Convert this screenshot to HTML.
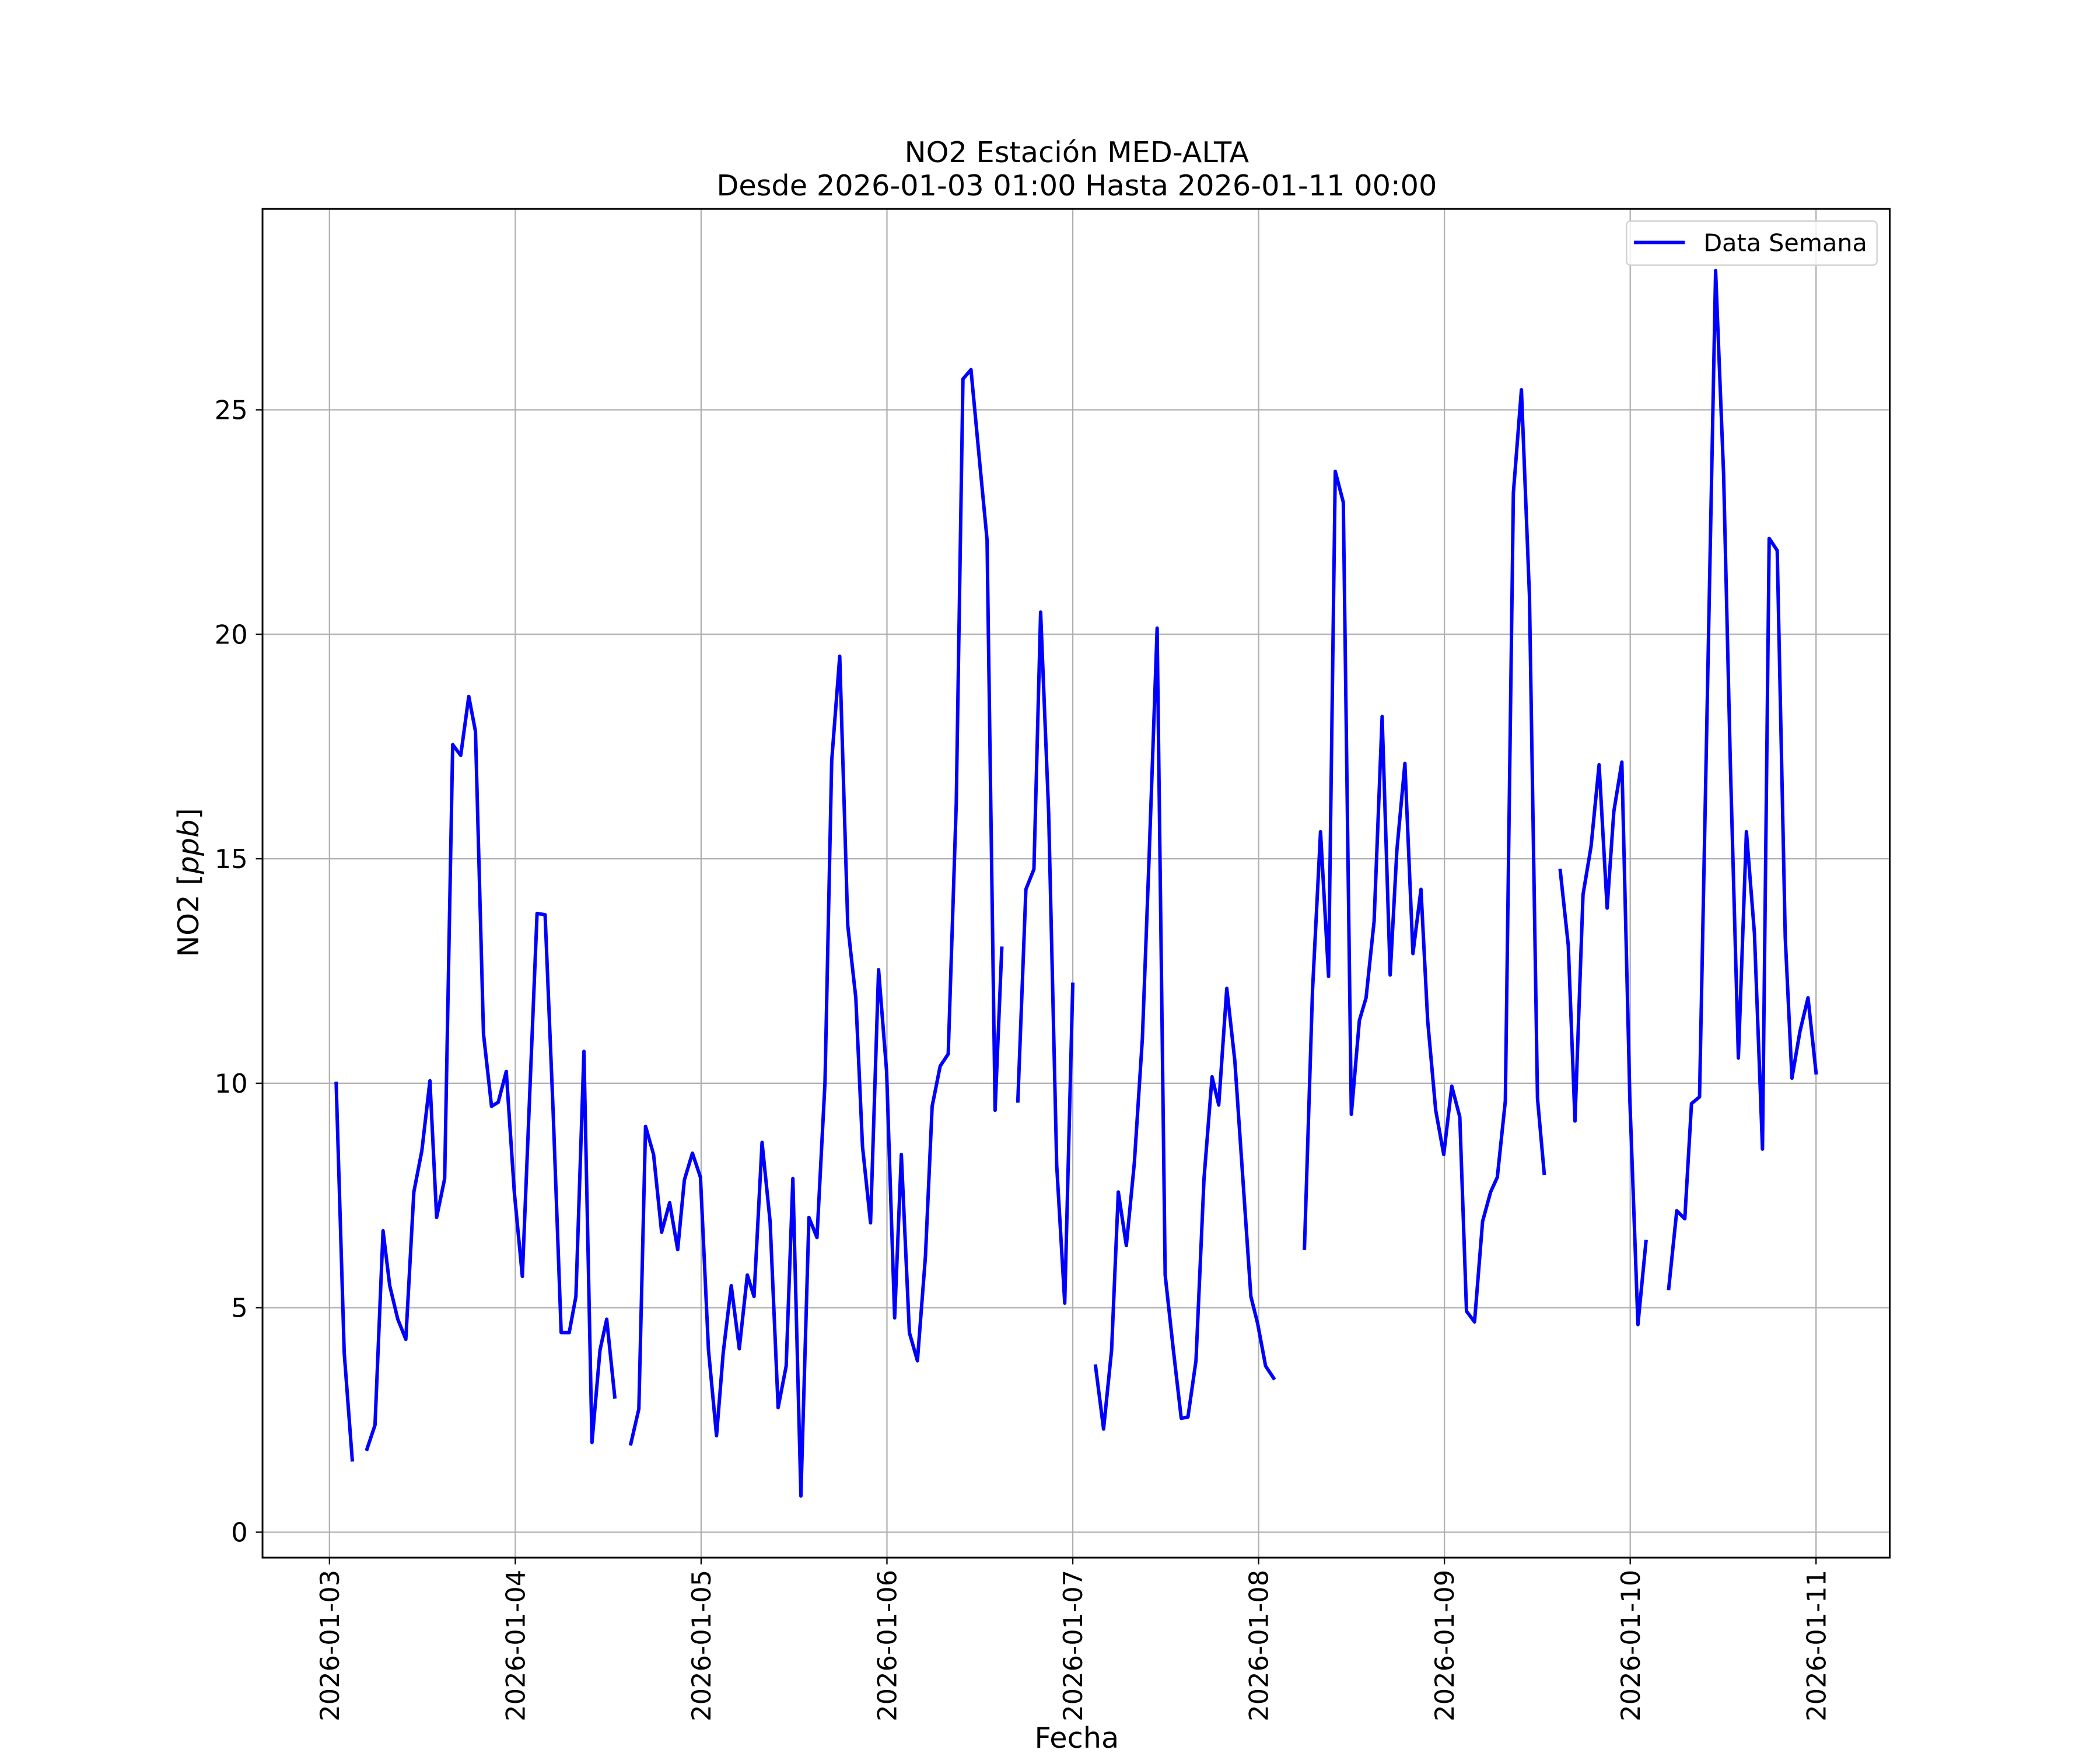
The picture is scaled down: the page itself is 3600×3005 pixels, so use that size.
<!DOCTYPE html>
<html><head><meta charset="utf-8"><style>html,body{margin:0;padding:0;background:#fff}</style></head>
<body>
<svg xmlns="http://www.w3.org/2000/svg" width="3600" height="3000" viewBox="0 0 1568 1306.7" font-family="DejaVu Sans, Liberation Sans, sans-serif">
<rect width="1568" height="1306.7" fill="#fff"/>
<g stroke="#b0b0b0" stroke-width="1">
<line x1="246" y1="156" x2="246" y2="1163"/><line x1="384.75" y1="156" x2="384.75" y2="1163"/><line x1="523.5" y1="156" x2="523.5" y2="1163"/><line x1="662.25" y1="156" x2="662.25" y2="1163"/><line x1="801" y1="156" x2="801" y2="1163"/><line x1="939.75" y1="156" x2="939.75" y2="1163"/><line x1="1078.5" y1="156" x2="1078.5" y2="1163"/><line x1="1217.25" y1="156" x2="1217.25" y2="1163"/><line x1="1356" y1="156" x2="1356" y2="1163"/>
<line x1="196" y1="1144" x2="1411" y2="1144"/><line x1="196" y1="976.4" x2="1411" y2="976.4"/><line x1="196" y1="808.8" x2="1411" y2="808.8"/><line x1="196" y1="641.2" x2="1411" y2="641.2"/><line x1="196" y1="473.6" x2="1411" y2="473.6"/><line x1="196" y1="306" x2="1411" y2="306"/>
</g>
<g fill="none" stroke="#0000ff" stroke-width="2.6" stroke-linejoin="round" stroke-linecap="square">
<polyline points="251,809 257,1010 263,1090"/>
<polyline points="274,1082 280,1064 286,919 291,960 297,985 303,1000 309,890 315,859 321,807 326,909 332,880 338,556 344,564 350,520 355,546 361,772 367,826 372,823 378,800 384,890 390,953 396,805 401,682 407,683 413,830 419,995 425,995 430,968 436,785 442,1077 448,1008 453,985 459,1043"/>
<polyline points="471,1078 477,1052 482,841 488,862 494,920 500,898 506,933 511,881 517,861 523,879 529,1008 535,1072 540,1010 546,960 552,1007 558,952 563,968 569,853 575,912 581,1051 587,1020 592,880 598,1117 604,909 610,924 616,808 621,568 627,490 633,691 639,745 644,856 650,913 656,724 662,800 668,984 673,862 679,995 685,1016 691,938 696,826 702,796 708,787 714,600 719,283 725,276 731,340 737,403 743,829 748,708"/>
<polyline points="760,822 766,664 772,649 777,457 783,607 789,870 795,973 801,735"/>
<polyline points="818,1020 824,1067 830,1008 835,890 841,930 847,868 853,775 858,640 864,469 870,952 876,1007 882,1059 887,1058 893,1016 899,880 905,804 910,825 916,738 922,792 928,880 934,968 939,988 945,1020 951,1029"/>
<polyline points="974,932 980,740 986,621 992,729 997,352 1003,375 1009,832 1015,762 1020,745 1026,688 1032,535 1038,728 1043,635 1049,570 1055,712 1061,664 1066,762 1072,829 1078,862 1084,811 1090,834 1095,979 1101,987 1107,912 1113,890 1118,879 1124,822 1130,368 1136,291 1142,445 1148,820 1153,876"/>
<polyline points="1165,650 1171,706 1176,837 1182,668 1188,632 1194,571 1200,678 1205,606 1211,569 1217,822 1223,989 1229,927"/>
<polyline points="1246,962 1252,904 1258,910 1263,824 1269,819 1275,512 1281,202 1287,355 1292,570 1298,790 1304,621 1310,697 1316,858 1321,402 1327,411 1333,700 1338,805 1344,770 1350,745 1356,801"/>
</g>
<rect x="196" y="156" width="1215" height="1007" fill="none" stroke="#000" stroke-width="1.3"/>
<g stroke="#000" stroke-width="1">
<line x1="246" y1="1163" x2="246" y2="1168"/><line x1="384.75" y1="1163" x2="384.75" y2="1168"/><line x1="523.5" y1="1163" x2="523.5" y2="1168"/><line x1="662.25" y1="1163" x2="662.25" y2="1168"/><line x1="801" y1="1163" x2="801" y2="1168"/><line x1="939.75" y1="1163" x2="939.75" y2="1168"/><line x1="1078.5" y1="1163" x2="1078.5" y2="1168"/><line x1="1217.25" y1="1163" x2="1217.25" y2="1168"/><line x1="1356" y1="1163" x2="1356" y2="1168"/>
<line x1="191" y1="1144" x2="196" y2="1144"/><line x1="191" y1="976.4" x2="196" y2="976.4"/><line x1="191" y1="808.8" x2="196" y2="808.8"/><line x1="191" y1="641.2" x2="196" y2="641.2"/><line x1="191" y1="473.6" x2="196" y2="473.6"/><line x1="191" y1="306" x2="196" y2="306"/>
</g>
<g font-size="19.5" text-anchor="end" fill="#000">
<text x="185" y="1151">0</text><text x="185" y="983.4">5</text><text x="185" y="815.8">10</text><text x="185" y="648.2">15</text><text x="185" y="480.6">20</text><text x="185" y="313">25</text>
</g>
<g font-size="19.5" text-anchor="end" fill="#000">
<text transform="translate(253,1172) rotate(-90)">2026-01-03</text>
<text transform="translate(391.75,1172) rotate(-90)">2026-01-04</text>
<text transform="translate(530.5,1172) rotate(-90)">2026-01-05</text>
<text transform="translate(669.25,1172) rotate(-90)">2026-01-06</text>
<text transform="translate(808,1172) rotate(-90)">2026-01-07</text>
<text transform="translate(946.75,1172) rotate(-90)">2026-01-08</text>
<text transform="translate(1085.5,1172) rotate(-90)">2026-01-09</text>
<text transform="translate(1224.25,1172) rotate(-90)">2026-01-10</text>
<text transform="translate(1363,1172) rotate(-90)">2026-01-11</text>
</g>
<text x="804" y="1305" font-size="21.5" text-anchor="middle">Fecha</text>
<text transform="translate(148,659) rotate(-90)" font-size="21.5" text-anchor="middle">NO2 [<tspan font-style="italic">ppb</tspan>]</text>
<text x="804" y="121" font-size="21.5" text-anchor="middle">NO2 Estación MED-ALTA</text>
<text x="804" y="146" font-size="21.5" text-anchor="middle">Desde 2026-01-03 01:00 Hasta 2026-01-11 00:00</text>
<rect x="1214.5" y="165" width="187" height="33" rx="3" fill="#fff" fill-opacity="0.8" stroke="#d0d0d0" stroke-width="1"/>
<line x1="1220" y1="181" x2="1258" y2="181" stroke="#0000ff" stroke-width="2.6"/>
<text x="1272" y="187.5" font-size="18">Data Semana</text>
</svg>
</body></html>
